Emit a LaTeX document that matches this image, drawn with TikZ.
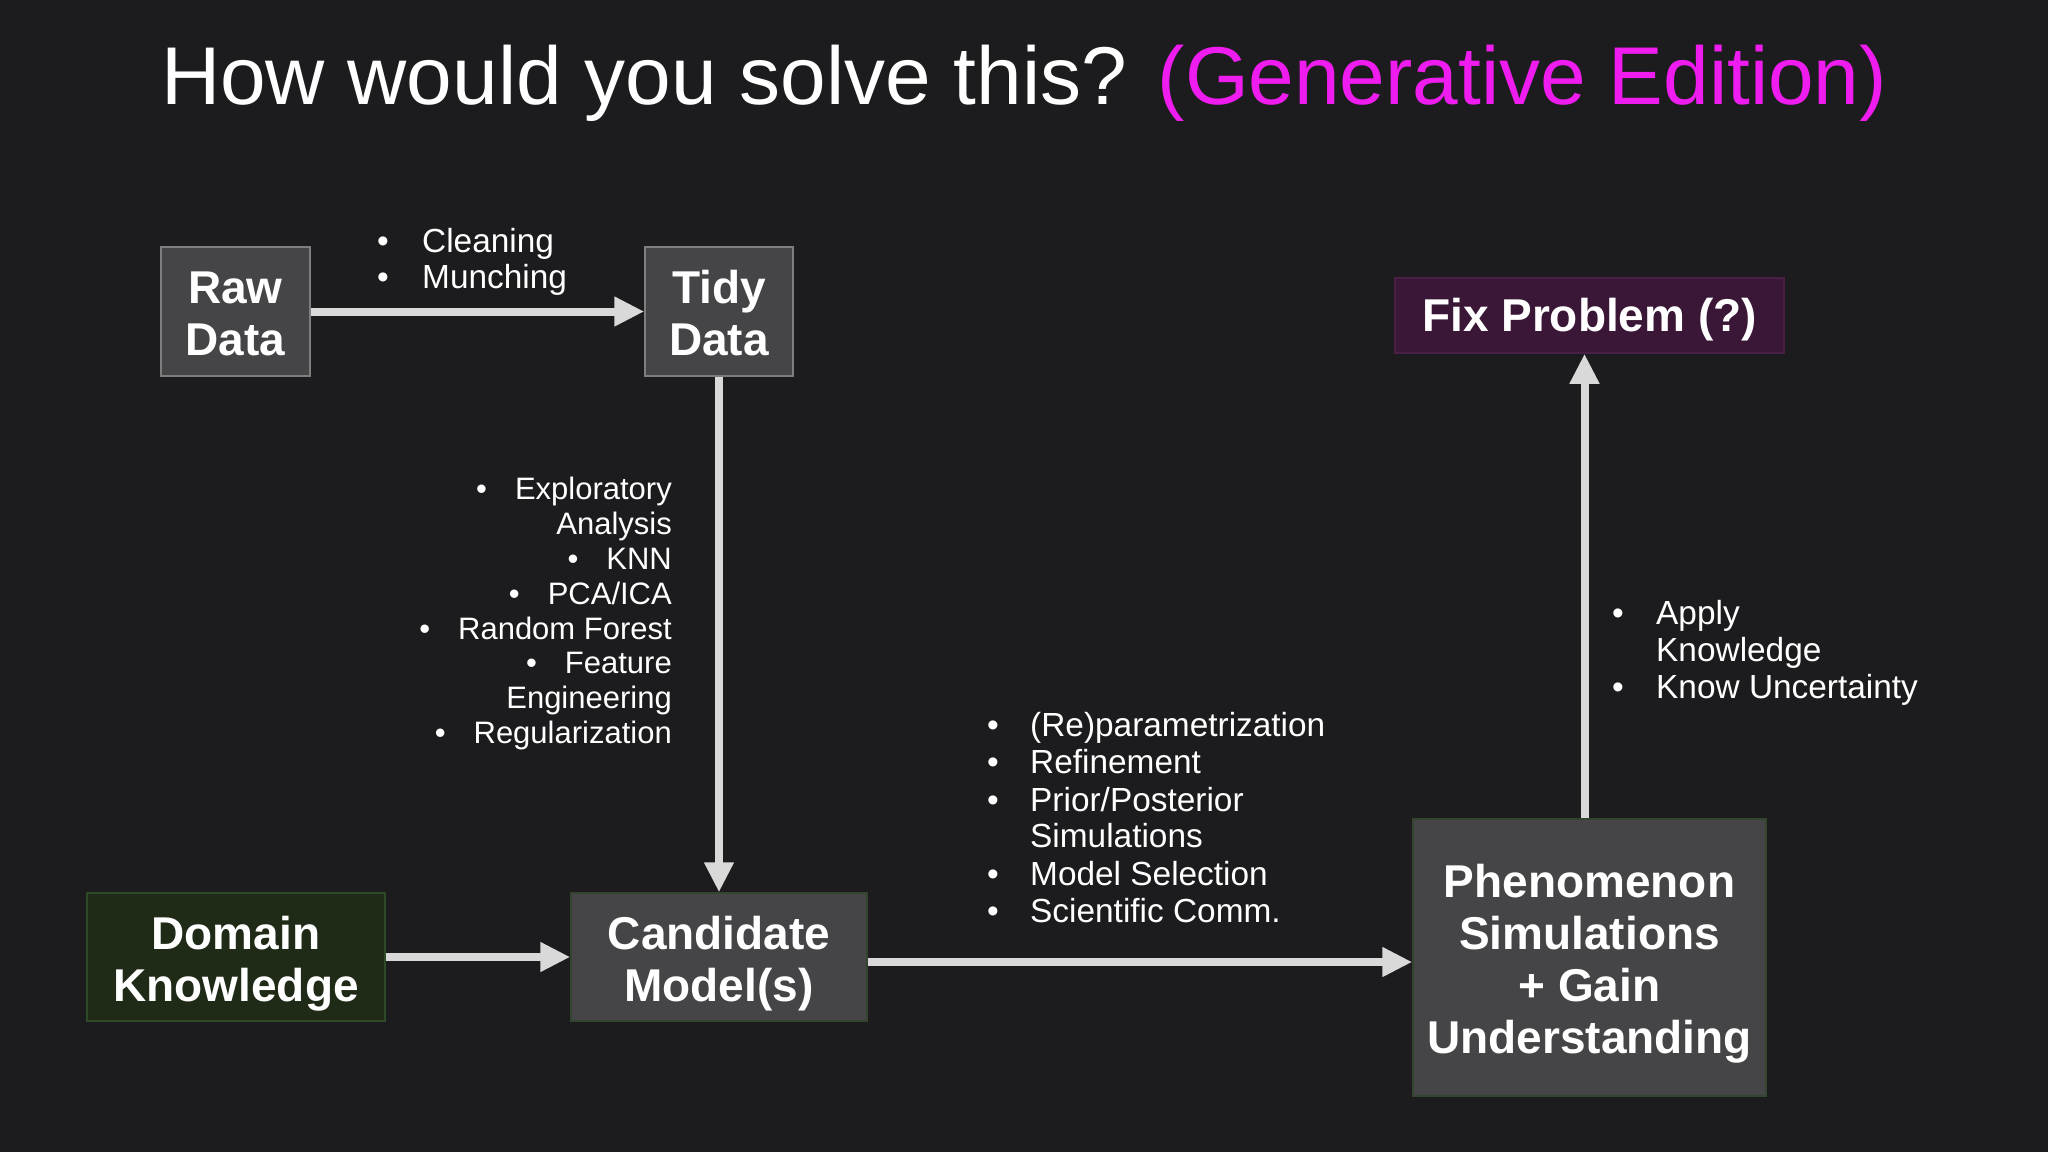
\documentclass[tikz,border=0pt]{standalone}
\usepackage{fontspec}
\setmainfont{Liberation Sans}
\usetikzlibrary{arrows.meta}
\definecolor{bg}{HTML}{1C1B1D}
\definecolor{boxgray}{HTML}{454446}
\definecolor{boxedge}{HTML}{7E7E7E}
\definecolor{darkgreenedge}{HTML}{33452F}
\definecolor{greenfill}{HTML}{1F2A17}
\definecolor{greenedge}{HTML}{2E4A26}
\definecolor{purplefill}{HTML}{3B1737}
\definecolor{purpleedge}{HTML}{4A1E45}
\definecolor{arrowc}{HTML}{D9D9D9}
\definecolor{magentat}{HTML}{EE1CEE}
\newcommand{\toplift}[1]{\rule{0pt}{#1}}
\begin{document}
\begin{tikzpicture}[x=1pt,y=-1pt,
  box/.style={draw=boxedge, fill=boxgray, line width=1.5pt, inner sep=0pt, align=center, text=white,
    font=\bfseries\fontsize{46}{52}\selectfont},
  conn/.style={draw=arrowc, line width=8pt, -{Triangle[length=30pt,width=28pt]}},
  item/.style={text=white, inner sep=0pt, font=\fontsize{31}{35}\selectfont},
  itemb/.style={text=white, inner sep=0pt, font=\fontsize{33.4}{37}\selectfont},
  bul/.style={itemb, anchor=base},
  txt/.style={itemb, anchor=base west},
]
\path[fill=bg] (0,0) rectangle (2048,1152);

% title
\node[anchor=base, text=white, inner sep=0pt, font=\fontsize{82}{90}\selectfont] (title) at (1024,104)
  {How would you solve this? {\color{magentat}(Generative Edition)}};

% boxes
\node[box, minimum width=149pt, minimum height=129pt] (raw) at (235.5,311.5) {\toplift{37pt}Raw\\Data};
\node[box, minimum width=148pt, minimum height=129pt] (tidy) at (719,311.5) {\toplift{37pt}Tidy\\Data};
\node[box, draw=purpleedge, fill=purplefill, minimum width=389pt, minimum height=75pt] (fix) at (1589.5,315.5) {\toplift{42pt}Fix Problem (?)};
\node[box, draw=greenedge, fill=greenfill, minimum width=298pt, minimum height=128pt] (dom) at (236,957) {\toplift{46pt}Domain\\Knowledge};
\node[box, draw=darkgreenedge, minimum width=296pt, minimum height=128pt] (cand) at (719,957) {\toplift{46pt}Candidate\\Model(s)};
\node[box, draw=darkgreenedge, minimum width=353pt, minimum height=277pt] (phen) at (1589.5,957.5) {\toplift{46pt}Phenomenon\\Simulations\\+ Gain\\Understanding};

% connectors
\draw[conn] (raw) -- (tidy);
\draw[conn] (tidy) -- (cand);
\draw[conn] (dom) -- (cand);
\draw[conn] ([yshift=-5pt]cand.east) -- ([yshift=-5pt]phen.west |- cand.east);
\draw[conn] ([xshift=-5pt]phen.north) -- ([xshift=-5pt]fix.south);

% Cleaning list
\node[bul] (b1) at (383,252) {\textbullet};
\node[txt] (t1) at (422,252) {Cleaning};
\node[bul] (b2) at (383,288) {\textbullet};
\node[txt] (t2) at (422,288) {Munching};

% right aligned list
\foreach \y/\t [count=\i] in {499/{\textbullet\hspace{28pt}Exploratory},
  534/{Analysis},
  569/{\textbullet\hspace{28pt}KNN},
  604/{\textbullet\hspace{28pt}PCA/ICA},
  639/{\textbullet\hspace{28pt}Random Forest},
  673/{\textbullet\hspace{28pt}Feature},
  708/{Engineering},
  743/{\textbullet\hspace{28pt}Regularization}}
  \node[item, anchor=base east] (r\i) at (672,\y) {\t};

% middle list
\foreach \y/\t/\b [count=\i] in {736/{(Re)parametrization}/1,
  773/{Refinement}/1,
  811/{Prior/Posterior}/1,
  847/{Simulations}/0,
  885/{Model Selection}/1,
  922/{Scientific Comm.}/1}
{
  \node[txt] (m\i) at (1030,\y) {\t};
  \ifnum\b=1 \node[bul] (mb\i) at (993,\y) {\textbullet}; \fi
}

% apply list
\node[bul] (ab1) at (1618,624) {\textbullet};
\node[txt] (a1) at (1656,624) {Apply};
\node[txt] (a2) at (1656,661) {Knowledge};
\node[bul] (ab3) at (1618,698) {\textbullet};
\node[txt] (a3) at (1656,698) {Know Uncertainty};
\end{tikzpicture}
\end{document}
